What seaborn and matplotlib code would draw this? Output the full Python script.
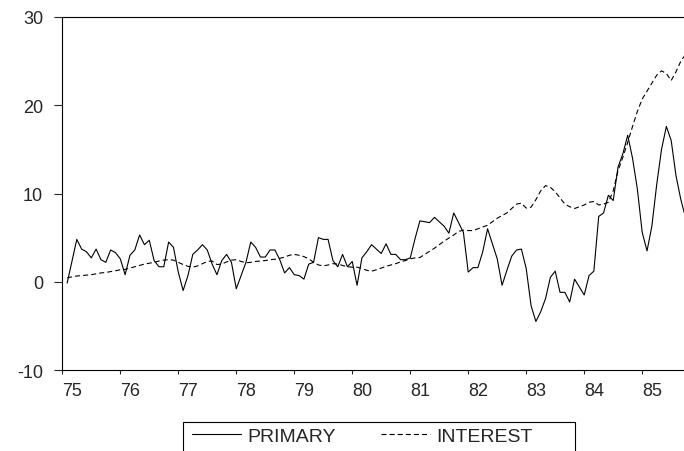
import numpy as np
import pandas as pd
import matplotlib.pyplot as plt
from matplotlib.patches import Rectangle
import seaborn as sns

# monthly observations, first one is 1975:02
start_month = 1
primary = [
    -0.15, 2.3, 4.8, 3.7, 3.4, 2.7, 3.7, 2.5, 2.2, 3.6, 3.3, 2.6,
    0.8, 3.0, 3.6, 5.3, 4.2, 4.7, 2.4, 1.7, 1.7, 4.5, 3.9, 1.1,
    -1.0, 0.7, 3.1, 3.6, 4.2, 3.6, 2.0, 0.8, 2.4, 3.1, 2.2, -0.8,
    0.7, 2.2, 4.5, 3.9, 2.8, 2.8, 3.6, 3.6, 2.5, 1.0, 1.6, 0.8,
    0.7, 0.3, 2.0, 2.2, 5.0, 4.8, 4.8, 2.4, 1.7, 3.1, 1.7, 2.3,
    -0.4, 2.7, 3.4, 4.2, 3.7, 3.2, 4.3, 3.1, 3.1, 2.5, 2.5, 2.7,
    4.9, 6.9, 6.8, 6.7, 7.3, 6.8, 6.3, 5.5, 7.8, 6.7, 5.6, 1.1,
    1.6, 1.6, 3.4, 6.0, 4.3, 2.6, -0.4, 1.3, 2.9, 3.6, 3.7, 1.5,
    -2.7, -4.5, -3.4, -1.9, 0.5, 1.2, -1.2, -1.2, -2.3, 0.3, -0.6, -1.5,
    0.7, 1.2, 7.4, 7.8, 9.8, 9.2, 13.0, 14.5, 16.6, 14.0, 10.5, 5.6,
    3.5, 6.3, 11.0, 15.0, 17.6, 16.0, 12.0, 9.3, 7.2,
]
interest = [
    0.45, 0.55, 0.65, 0.7, 0.75, 0.8, 0.9, 1.0, 1.05, 1.15, 1.25, 1.35,
    1.4, 1.55, 1.7, 1.85, 2.0, 2.1, 2.2, 2.35, 2.45, 2.5, 2.45, 2.2,
    1.95, 1.75, 1.65, 1.8, 2.05, 2.3, 2.35, 1.95, 2.0, 2.25, 2.45, 2.5,
    2.3, 2.15, 2.2, 2.3, 2.35, 2.4, 2.5, 2.55, 2.65, 2.8, 3.0, 3.1,
    3.0, 2.85, 2.6, 2.2, 1.9, 1.8, 1.9, 2.05, 2.0, 1.85, 1.7, 1.65,
    1.65, 1.5, 1.3, 1.2, 1.35, 1.55, 1.75, 1.9, 2.05, 2.25, 2.4, 2.6,
    2.7, 2.75, 3.1, 3.45, 3.8, 4.2, 4.6, 4.95, 5.3, 5.7, 5.85, 5.8,
    5.8, 6.0, 6.2, 6.4, 6.8, 7.2, 7.5, 7.8, 8.3, 8.8, 8.9, 8.35,
    8.45, 9.3, 10.3, 10.9, 10.7, 10.2, 9.5, 8.8, 8.5, 8.3, 8.5, 8.7,
    9.0, 9.1, 8.7, 8.8, 9.0, 10.3, 12.6, 14.1, 15.8, 17.6, 19.3, 20.7,
    21.6, 22.5, 23.4, 23.9, 23.6, 22.8, 23.8, 25.0, 25.8,
]
years = list(range(1975, 1986))
year_labels = [str(y)[2:] for y in years]
y_ticks = [-10, 0, 10, 20, 30]

months = np.arange(start_month, start_month + len(primary))
df = pd.DataFrame({'t': 1975 + months / 12, 'PRIMARY': primary, 'INTEREST': interest})

sns.set_style('ticks')
plt.rcParams['font.family'] = ['Liberation Sans', 'DejaVu Sans']
plt.rcParams['font.size'] = 13

W, H = 684, 452
fig = plt.figure(figsize=(W / 100, H / 100), dpi=100)
ax = fig.add_axes([62.3 / W, 1 - 371 / H, (W - 62.3) / W, (371 - 18) / H])

sns.lineplot(data=df, x='t', y='PRIMARY', ax=ax, color='black', lw=0.8, label='PRIMARY')
sns.lineplot(data=df, x='t', y='INTEREST', ax=ax, color='black', lw=0.8,
             linestyle=(0, (4.5, 2.8)), label='INTEREST')

ax.set_xlim(1975, 1975 + 128.65 / 12)
ax.set_ylim(-10, 30)
ax.set_xticks(years)
ax.set_xticklabels(year_labels, ha='left')
ax.set_yticks(y_ticks)
ax.set_yticklabels([str(v) for v in y_ticks])
ax.set_xlabel('')
ax.set_ylabel('')
ax.tick_params(axis='y', direction='out', length=5.8, width=0.8, pad=8, labelsize=13)
ax.tick_params(axis='x', direction='out', length=3, width=0.8, pad=6, labelsize=13)
for side in ['left', 'bottom', 'top']:
    ax.spines[side].set_visible(True)
    ax.spines[side].set_linewidth(0.8)
    ax.spines[side].set_color('black')
ax.spines['right'].set_visible(False)

handles, labels = ax.get_legend_handles_labels()
ax.get_legend().remove()
fig.legend(handles, labels, loc='center', bbox_to_anchor=(362.5 / W, 1 - 437 / H),
           ncol=2, frameon=False, handlelength=2.5, handletextpad=0.36,
           columnspacing=2.3, fontsize=14, borderpad=0, borderaxespad=0)
fig.patches.append(Rectangle((183 / W, -0.05), (575 - 183) / W, 0.05 + (1 - 423 / H),
                             transform=fig.transFigure, fill=False,
                             edgecolor='black', lw=0.8))

fig.savefig('out.png', dpi=100)
